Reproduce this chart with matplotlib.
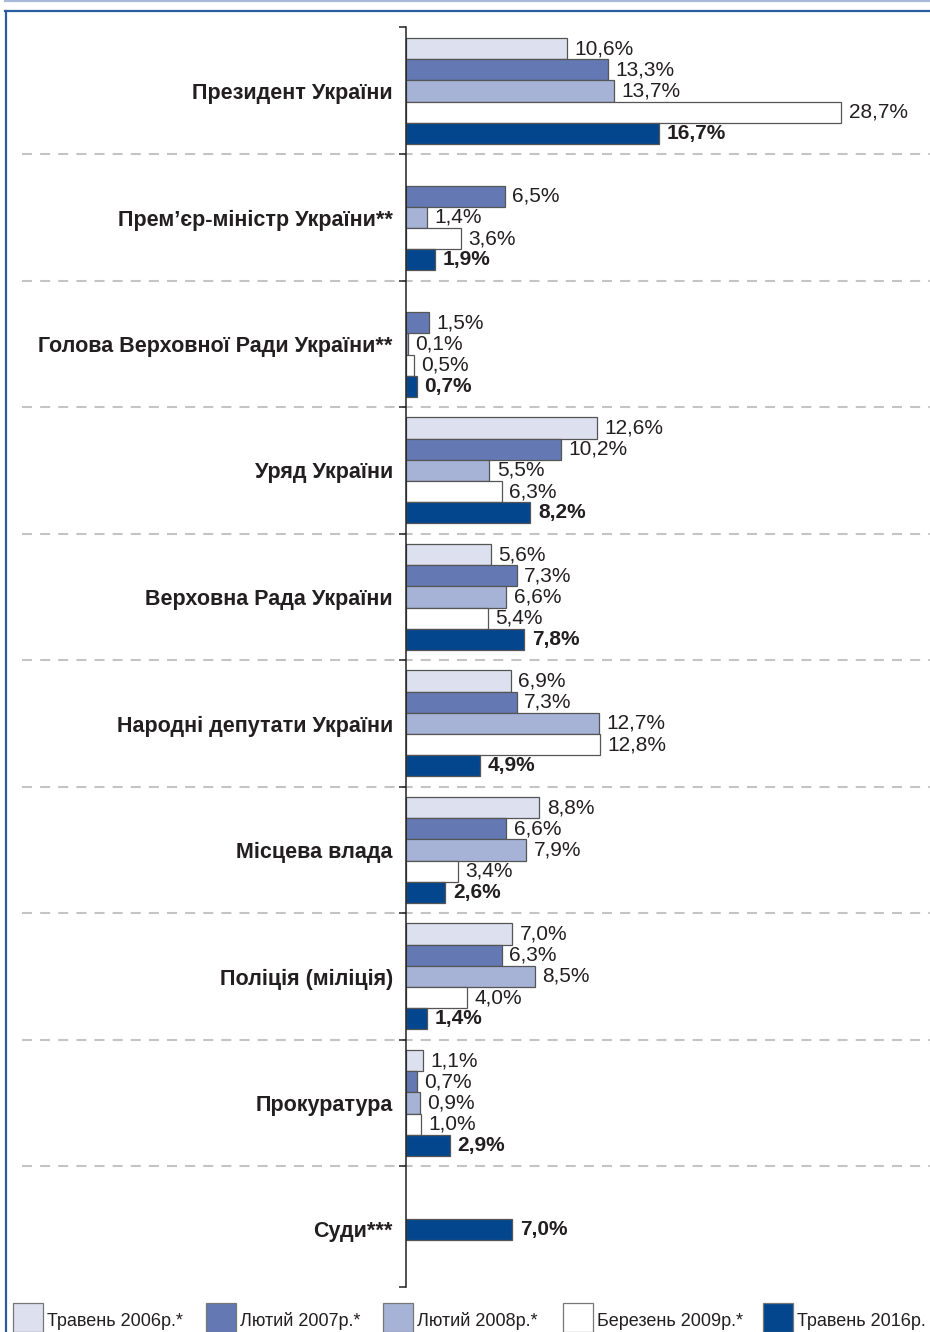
import numpy as np
import matplotlib.pyplot as plt
from matplotlib.lines import Line2D
from matplotlib.patches import Rectangle
import matplotlib.transforms as mtransforms

categories = ['Президент України', 'Прем’єр-міністр України**',
              'Голова Верховної Ради України**', 'Уряд України',
              'Верховна Рада України', 'Народні депутати України',
              'Місцева влада', 'Поліція (міліція)', 'Прокуратура', 'Суди***']
series_names = ['Травень 2006р.*', 'Лютий 2007р.*', 'Лютий 2008р.*',
                'Березень 2009р.*', 'Травень 2016р.']
v2006 = [10.6, None, None, 12.6, 5.6, 6.9, 8.8, 7.0, 1.1, None]
v2007 = [13.3, 6.5, 1.5, 10.2, 7.3, 7.3, 6.6, 6.3, 0.7, None]
v2008 = [13.7, 1.4, 0.1, 5.5, 6.6, 12.7, 7.9, 8.5, 0.9, None]
v2009 = [28.7, 3.6, 0.5, 6.3, 5.4, 12.8, 3.4, 4.0, 1.0, None]
v2016 = [16.7, 1.9, 0.7, 8.2, 7.8, 4.9, 2.6, 1.4, 2.9, 7.0]
series = [v2006, v2007, v2008, v2009, v2016]
colors = ['#dde1ef', '#6479b3', '#a6b3d7', '#ffffff', '#03468e']

W, H = 930, 1332
fig = plt.figure(figsize=(W / 100, H / 100), dpi=100)
ax = fig.add_axes([406 / W, 1 - 1287 / H, 1 - 406 / W, (1287 - 27) / H])

bh = 0.1676
font = 'Liberation Sans'
txt_color = '#231f20'
for g in range(len(categories)):
    vals = [s[g] for s in series]
    n_present = sum(v is not None for v in vals)
    for k, v in enumerate(vals):
        if v is None:
            continue
        off = 0 if n_present == 1 else (k - 2) * bh
        y = g + off
        ax.barh(y, v, height=bh, color=colors[k], edgecolor='#555555', linewidth=0.9)
        ax.annotate(f"{v:.1f}".replace('.', ',') + '%', (v, y), xytext=(5.5, 0),
                    textcoords='offset points', va='center', ha='left',
                    fontsize=15, family=font, color=txt_color,
                    fontweight='bold' if k == 4 else 'normal')

ax.set_xlim(0, 524 / 15.16)
ax.set_ylim(9.455, -0.506)
ax.set_yticks(range(len(categories)))
ax.set_yticklabels(categories, fontsize=15.5, fontweight='bold', family=font, color=txt_color)
ax.tick_params(axis='y', which='major', length=0, pad=9.5)
seps = np.arange(len(categories) - 1) + 0.5
ax.set_yticks(list(seps) + [-0.506, 9.455], minor=True)
ax.tick_params(axis='y', which='minor', length=5, width=1.1, color='#222222')
ax.xaxis.set_visible(False)
for s in ['top', 'right', 'bottom']:
    ax.spines[s].set_visible(False)
ax.spines['left'].set_linewidth(1.1)
ax.spines['left'].set_color('#222222')

# dashed separators
trans = mtransforms.blended_transform_factory(fig.transFigure, ax.transData)
for y in seps:
    ax.add_line(Line2D([22 / W, 1.0], [y, y], transform=trans, color='#c4c4c4',
                       lw=1.5, dashes=(4.8, 3.9), clip_on=False, zorder=0))

# frame
fig.add_artist(Line2D([5 / W, 1], [1 - 0.8 / H] * 2, color='#a9b9d9', lw=1.6))
fig.add_artist(Line2D([5 / W, 1], [1 - 11 / H] * 2, color='#2b5c9b', lw=1.6))
fig.add_artist(Line2D([5.5 / W] * 2, [0, 1 - 11 / H], color='#2b5c9b', lw=1.6))

# legend
sq_x = [13, 206, 383, 563, 763]
for k, name in enumerate(series_names):
    fig.add_artist(Rectangle((sq_x[k] / W, 0), 30 / W, (1332 - 1303) / H,
                             transform=fig.transFigure, facecolor=colors[k],
                             edgecolor='#777777', linewidth=0.9))
    fig.text((sq_x[k] + 34) / W, 1 - 1326 / H, name, fontsize=13,
             family=font, color=txt_color, va='baseline', ha='left')

fig.savefig('out.png', dpi=100)
